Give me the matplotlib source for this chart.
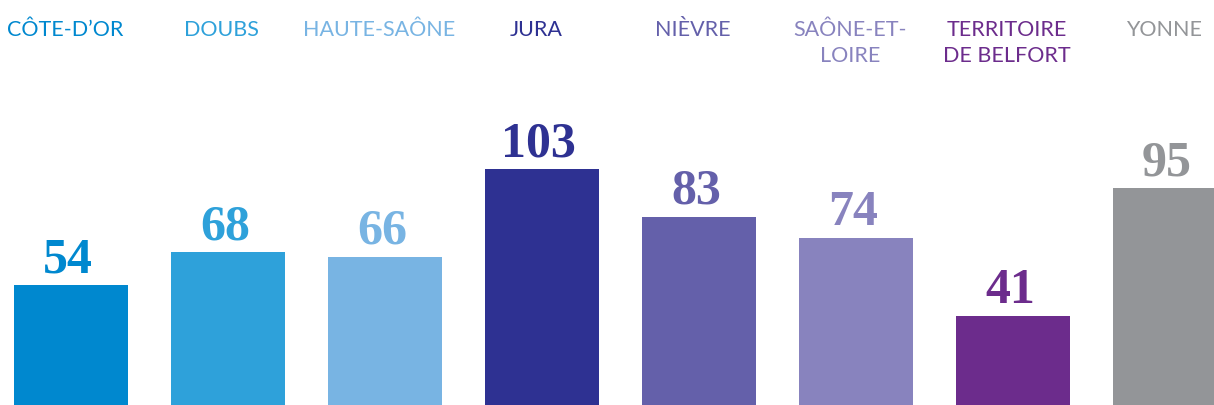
import numpy as np
import matplotlib.pyplot as plt

# departments, values and colours
departements = ["CÔTE-D\u2019OR", "DOUBS", "HAUTE-SAÔNE", "JURA", "NIÈVRE",
                "SAÔNE-ET-\nLOIRE", "TERRITOIRE\nDE BELFORT", "YONNE"]
valeurs = [54, 68, 66, 103, 83, 74, 41, 95]
couleurs = ["#0088CF", "#2EA1DA", "#78B4E3", "#2E3192",
            "#6460AA", "#8883BE", "#6C2C8C", "#939598"]


def px_to_val(py):
    """pixel row (from top) -> data value, baseline sits at 413 px"""
    return (413 - py) / 2.367


fig = plt.figure(figsize=(12.14, 4.05), dpi=100)
ax = fig.add_axes([0, 0, 1, 1])

x = np.arange(len(valeurs))
ax.bar(x, valeurs, width=0.726, color=couleurs)

for i, v in enumerate(valeurs):
    # value above the bar
    ax.text(x[i] - 0.02, v + 5.5, str(v), ha="center", va="baseline",
            fontsize=36, fontweight="bold", family="Liberation Serif",
            color=couleurs[i])
    # department name at the top, one text per line
    for j, ligne in enumerate(departements[i].split("\n")):
        ax.text(x[i] - 0.04, px_to_val(36 + 25.5 * j), ligne, ha="center",
                va="baseline", fontsize=15.5, family="Lato",
                color=couleurs[i])

ax.set_xlim(-0.452, 7.28)
ax.set_ylim(px_to_val(405), px_to_val(0))
ax.axis("off")

plt.savefig("out.png", dpi=100)
